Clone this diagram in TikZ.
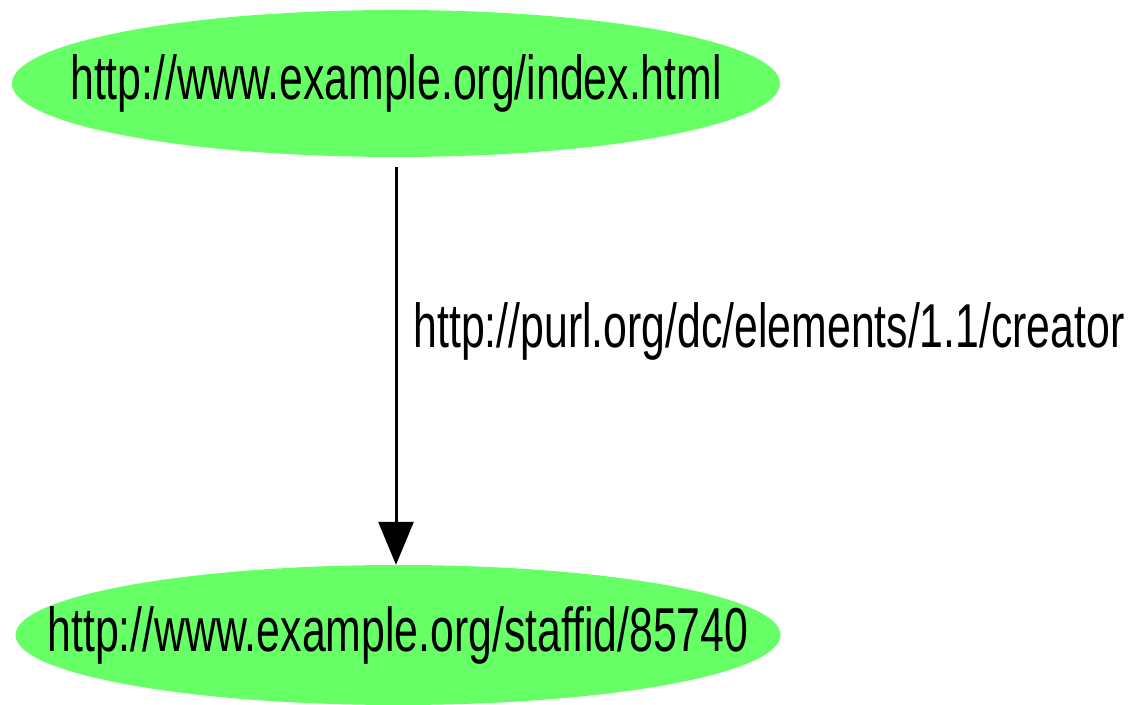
\documentclass[tikz,border=0pt]{standalone}
\usepackage{fontspec}
\newfontfamily\graphfont[FakeStretch=0.69]{Liberation Sans}
\usetikzlibrary{shapes.geometric,arrows.meta}
\definecolor{nodegreen}{RGB}{102,255,102}

\begin{document}
\begin{tikzpicture}[
  res/.style={ellipse, fill=nodegreen, inner xsep=-200pt, inner ysep=-40pt,
    font=\graphfont\fontsize{62}{70}\selectfont},
  prop/.style={inner sep=0pt, anchor=base west,
    font=\graphfont\fontsize{62}{70}\selectfont}]
  \useasboundingbox (0,0) rectangle (1132pt,704pt);

  \node[res, minimum width=768pt, minimum height=147pt] (index) at (396pt,620.5pt) {http://www.example.org/index.html};
  \node[res, minimum width=765pt, minimum height=140pt] (staff) at (398pt,69pt) {http://www.example.org/staffid/85740};

  \draw[line width=3pt, shorten <=10pt, -{Triangle[length=43pt,width=35pt]}]
    (index.south) -- node[prop, pos=0.466, xshift=16pt] {http://purl.org/dc/elements/1.1/creator} (index.south |- staff.north);
\end{tikzpicture}
\end{document}
